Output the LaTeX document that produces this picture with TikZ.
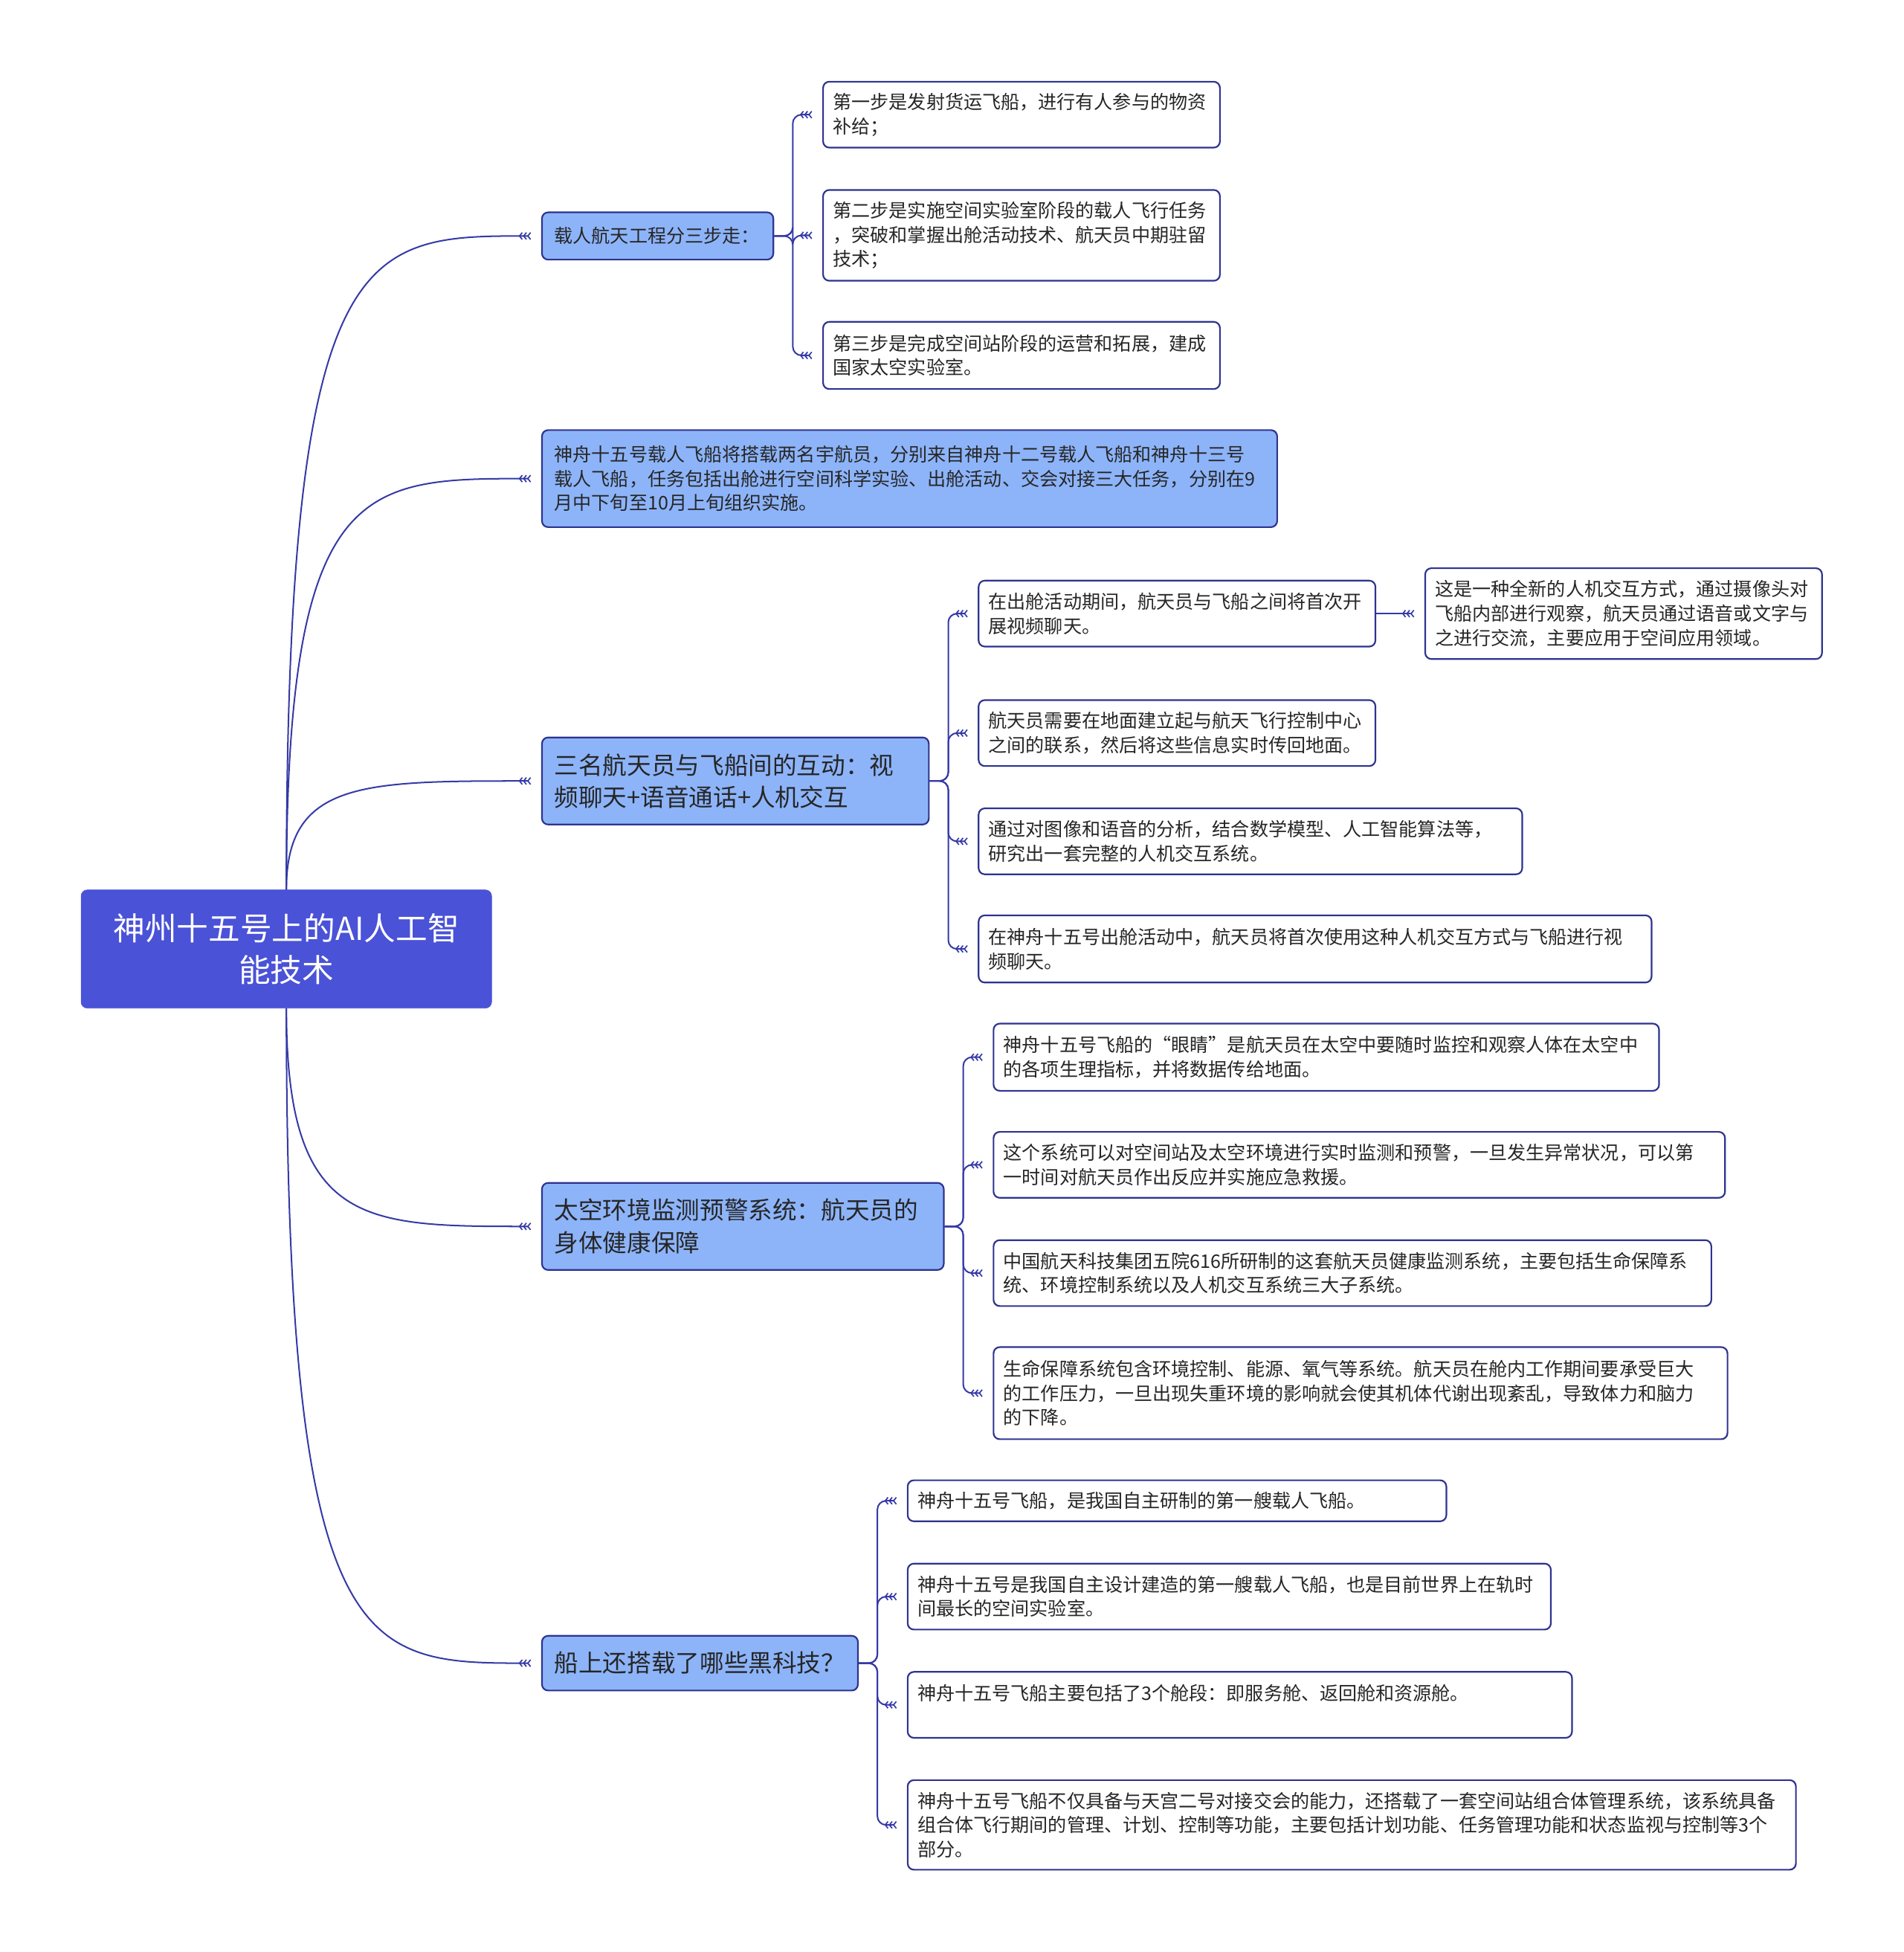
\documentclass[tikz,border=0pt]{standalone}
\usepackage{fontspec}
\setmainfont{Noto Sans CJK SC}
\usetikzlibrary{calc,arrows.meta}
\definecolor{rootblue}{HTML}{4A52D7}
\definecolor{topicblue}{HTML}{8DB4F9}
\definecolor{edgeblue}{HTML}{2F338F}
\definecolor{linkblue}{HTML}{3539A6}
\tikzset{
  chev/.tip={Straight Barb[reversed,length=2.2pt,width=5.5pt,line width=1pt]},
  link/.style={draw=linkblue, line width=1.2pt, shorten >=8pt, -{chev[]chev[]chev[]}},
  rootbox/.style={draw=rootblue, fill=rootblue, rounded corners=5pt, text=white, align=center,
    inner xsep=8pt, inner ysep=0pt, font=\fontsize{25.5}{33}\selectfont, anchor=north west},
  topicbox/.style={draw=edgeblue, fill=topicblue, line width=1.3pt, rounded corners=5pt, align=left,
    inner xsep=10pt, inner ysep=0pt, font=\fontsize{19.5}{26}\selectfont, text=black!85, anchor=north west},
  smalltopic/.style={topicbox, font=\fontsize{15}{19.5}\selectfont},
  leaf/.style={draw=edgeblue, fill=white, line width=1.3pt, rounded corners=5pt, align=left,
    inner xsep=8pt, inner ysep=0pt, font=\fontsize{15}{19.5}\selectfont, text=black!85, anchor=north west}
}
\def\rootlink(#1)(#2){\draw[link] (#1) .. controls (#1 |- #2) and ($(#1 |- #2)!0.3!(#2)$) .. (#2);}
\def\leaflink(#1)(#2){\draw[link, rounded corners=7pt] (#1.east) -- ++(15,0) |- (#2.west);}

\begin{document}
\begin{tikzpicture}[x=1pt,y=-1pt]
			%%%%% START %%%%%
			\useasboundingbox (0,0) rectangle (1530,1568.8);
			
			\node[rootbox, text width=314pt, minimum height=95pt] (root) at (65,715) {神州十五号上的AI人工智\\能技术};
			
			\node[smalltopic, text width=166pt, minimum height=38pt] (steps) at (435,170) {载人航天工程分三步走：};
			\node[smalltopic, text width=571pt, minimum height=78pt] (crew) at (435,345) {神舟十五号载人飞船将搭载两名宇航员，分别来自神舟十二号载人飞船和神舟十三号\\载人飞船，任务包括出舱进行空间科学实验、出舱活动、交会对接三大任务，分别在9\\月中下旬至10月上旬组织实施。};
			\node[topicbox, text width=291pt, minimum height=70pt] (talk) at (435,592) {三名航天员与飞船间的互动：视\\频聊天+语音通话+人机交互};
			\node[topicbox, text width=303pt, minimum height=70pt] (health) at (435,950) {太空环境监测预警系统：航天员的\\身体健康保障};
			\node[topicbox, text width=234pt, minimum height=44pt] (tech) at (435,1314) {船上还搭载了哪些黑科技？};
			
			\rootlink(root.north)(steps.west)
			\rootlink(root.north)(crew.west)
			\rootlink(root.north)(talk.west)
			\rootlink(root.south)(health.west)
			\rootlink(root.south)(tech.west)
			
			% three steps
			\node[leaf, text width=303pt, minimum height=53pt] (stepone) at (661,65) {第一步是发射货运飞船，进行有人参与的物资\\补给；};
			\node[leaf, text width=303pt, minimum height=73pt] (steptwo) at (661,152) {第二步是实施空间实验室阶段的载人飞行任务\\，突破和掌握出舱活动技术、航天员中期驻留\\技术；};
			\node[leaf, text width=303pt, minimum height=54pt] (stepthree) at (661,258) {第三步是完成空间站阶段的运营和拓展，建成\\国家太空实验室。};
			\leaflink(steps)(stepone)
			\leaflink(steps)(steptwo)
			\leaflink(steps)(stepthree)
			
			% video chat
			\node[leaf, text width=303pt, minimum height=53pt] (video) at (786,466) {在出舱活动期间，航天员与飞船之间将首次开\\展视频聊天。};
			\node[leaf, text width=303pt, minimum height=73pt] (newway) at (1145,456) {这是一种全新的人机交互方式，通过摄像头对\\飞船内部进行观察，航天员通过语音或文字与\\之进行交流，主要应用于空间应用领域。};
			\node[leaf, text width=303pt, minimum height=53pt] (ground) at (786,562) {航天员需要在地面建立起与航天飞行控制中心\\之间的联系，然后将这些信息实时传回地面。};
			\node[leaf, text width=421pt, minimum height=53pt] (system) at (786,649) {通过对图像和语音的分析，结合数学模型、人工智能算法等，\\研究出一套完整的人机交互系统。};
			\node[leaf, text width=525pt, minimum height=54pt] (first) at (786,735) {在神舟十五号出舱活动中，航天员将首次使用这种人机交互方式与飞船进行视\\频聊天。};
			\leaflink(talk)(video)
			\leaflink(talk)(ground)
			\leaflink(talk)(system)
			\leaflink(talk)(first)
			\draw[link] (video.east) -- (newway.west);
			
			% health monitoring
			\node[leaf, text width=519pt, minimum height=54pt] (eyes) at (798,822) {神舟十五号飞船的“眼睛”是航天员在太空中要随时监控和观察人体在太空中\\的各项生理指标，并将数据传给地面。};
			\node[leaf, text width=572pt, minimum height=53pt] (warn) at (798,909) {这个系统可以对空间站及太空环境进行实时监测和预警，一旦发生异常状况，可以第\\一时间对航天员作出反应并实施应急救援。};
			\node[leaf, text width=561pt, minimum height=53pt] (institute) at (798,996) {中国航天科技集团五院616所研制的这套航天员健康监测系统，主要包括生命保障系\\统、环境控制系统以及人机交互系统三大子系统。};
			\node[leaf, text width=574pt, minimum height=74pt] (life) at (798,1082) {生命保障系统包含环境控制、能源、氧气等系统。航天员在舱内工作期间要承受巨大\\的工作压力，一旦出现失重环境的影响就会使其机体代谢出现紊乱，导致体力和脑力\\的下降。};
			\leaflink(health)(eyes)
			\leaflink(health)(warn)
			\leaflink(health)(institute)
			\leaflink(health)(life)
			
			% black tech
			\node[leaf, text width=417pt, minimum height=33pt] (ship) at (729,1189) {神舟十五号飞船，是我国自主研制的第一艘载人飞船。};
			\node[leaf, text width=501pt, minimum height=53pt] (lab) at (729,1256) {神舟十五号是我国自主设计建造的第一艘载人飞船，也是目前世界上在轨时\\间最长的空间实验室。};
			\node[leaf, text width=518pt, minimum height=53pt] (cabin) at (729,1343) {神舟十五号飞船主要包括了3个舱段：即服务舱、返回舱和资源舱。\\ \mbox{}};
			\node[leaf, text width=698pt, minimum height=72pt] (manage) at (729,1430) {神舟十五号飞船不仅具备与天宫二号对接交会的能力，还搭载了一套空间站组合体管理系统，该系统具备\\组合体飞行期间的管理、计划、控制等功能，主要包括计划功能、任务管理功能和状态监视与控制等3个\\部分。};
			\leaflink(tech)(ship)
			\leaflink(tech)(lab)
			\leaflink(tech)(cabin)
			\leaflink(tech)(manage)
			
			%%%%% END %%%%%
\end{tikzpicture}
\end{document}
